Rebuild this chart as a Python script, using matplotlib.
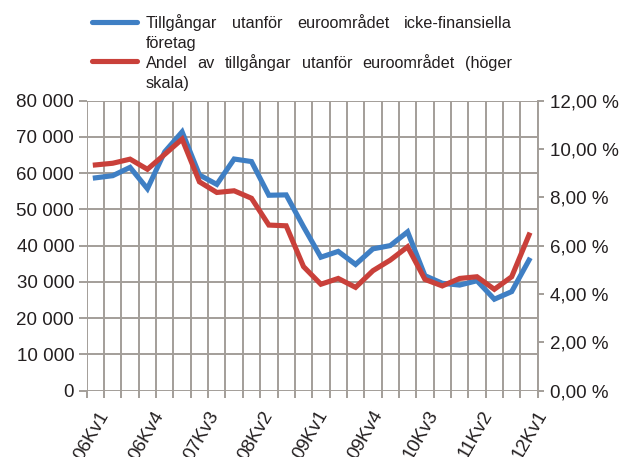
import matplotlib
matplotlib.use("Agg")
import matplotlib.pyplot as plt
import matplotlib.transforms as mtransforms
from matplotlib.lines import Line2D
from matplotlib.ticker import FuncFormatter, MultipleLocator
import numpy as np

plt.rcParams['font.family'] = ['Liberation Sans', 'DejaVu Sans']

# Data
# =====
quarters = ['05Kv4',
            '06Kv1', '06Kv2', '06Kv3', '06Kv4',
            '07Kv1', '07Kv2', '07Kv3', '07Kv4',
            '08Kv1', '08Kv2', '08Kv3', '08Kv4',
            '09Kv1', '09Kv2', '09Kv3', '09Kv4',
            '10Kv1', '10Kv2', '10Kv3', '10Kv4',
            '11Kv1', '11Kv2', '11Kv3', '11Kv4',
            '12Kv1']
shown_labels = ['06Kv1', '06Kv4', '07Kv3', '08Kv2', '09Kv1',
                '09Kv4', '10Kv3', '11Kv2', '12Kv1']

# Tillgångar utanför euroområdet, icke-finansiella företag (vänster skala)
assets = [58700, 59300, 61600, 55700, 65900, 71400, 59500, 56900, 63900, 63200,
          53900, 54000, 45200, 36800, 38400, 34800, 39100, 40000, 43800, 31700,
          29600, 29100, 30300, 25200, 27300, 36000]
# Andel av tillgångar utanför euroområdet, % (höger skala)
share = [9.34, 9.41, 9.58, 9.16, 9.78, 10.41, 8.64, 8.20, 8.27, 7.96,
         6.85, 6.82, 5.13, 4.40, 4.64, 4.27, 4.96, 5.40, 5.95, 4.60,
         4.33, 4.64, 4.71, 4.19, 4.71, 6.44]

legend_lines = [['Tillgångar', 'utanför', 'euroområdet', 'icke-finansiella'],
                ['företag'],
                ['Andel', 'av', 'tillgångar', 'utanför', 'euroområdet', '(höger'],
                ['skala)']]

BLUE = '#3f7fc4'
RED = '#c9403a'
GRID = '#a39e99'
TEXT = '#231f20'
FS = 13.5      # tick labels
FS_LEG = 11.7  # legend

W, H = 620, 457
fig = plt.figure(figsize=(W / 100, H / 100), dpi=100)
ax = fig.add_axes([86.7 / W, 1 - 390.5 / H, 451.0 / W, 289.8 / H])
ax2 = ax.twinx()

x = np.arange(len(quarters))
ax.plot(x, assets, color=BLUE, lw=3.7, solid_joinstyle='miter', zorder=3)
ax2.plot(x, share, color=RED, lw=3.7, solid_joinstyle='miter', zorder=3)

ax.set_xlim(-0.5, len(quarters) - 0.5)
ax.set_ylim(0, 80000)
ax2.set_ylim(0, 12)

# grid: category boundaries and value lines
ax.set_xticks(np.arange(-0.5, len(quarters), 1))
ax.set_xticklabels([])
ax.yaxis.set_major_locator(MultipleLocator(10000))
ax2.yaxis.set_major_locator(MultipleLocator(2))
ax.grid(True, color=GRID, lw=1.4)
ax.set_axisbelow(True)

ax.yaxis.set_major_formatter(FuncFormatter(lambda v, p: f"{int(v):,}".replace(',', ' ')))
ax2.yaxis.set_major_formatter(FuncFormatter(lambda v, p: f"{v:.2f} %".replace('.', ',')))

for a in (ax, ax2):
    for s in a.spines.values():
        s.set_visible(False)
ax.tick_params(axis='x', colors=GRID, width=1.4, length=5)
ax.tick_params(axis='y', colors=GRID, width=1.4, length=6, labelcolor=TEXT,
               labelsize=FS, pad=3)
ax2.tick_params(axis='y', colors=GRID, width=1.4, length=4.5, labelcolor=TEXT,
                labelsize=FS, pad=4)
ax2.spines['right'].set_visible(True)
ax2.spines['right'].set_color(GRID)
ax2.spines['right'].set_linewidth(1.4)

# rotated category labels (every third quarter)
trans = mtransforms.blended_transform_factory(ax.transData, ax.transAxes)
label_start, label_step = 0.55, 3.16
for k, lab in enumerate(shown_labels):
    ax.text(label_start + k * label_step, -0.075, lab, transform=trans,
            rotation=60, rotation_mode='anchor', ha='right', va='center',
            fontsize=FS, color=TEXT, clip_on=False)

# legend with justified text
fig.add_artist(Line2D([91.7 / W, 136.7 / W], [1 - 21.7 / H, 1 - 21.7 / H],
                      color=BLUE, lw=3.7, solid_capstyle='round'))
fig.add_artist(Line2D([91.7 / W, 136.7 / W], [1 - 60.7 / H, 1 - 60.7 / H],
                      color=RED, lw=3.7, solid_capstyle='round'))

renderer = fig.canvas.get_renderer()
x_left, x_right = 145.7, 511.7
baselines = [28.3, 47.7, 68.3, 88.3]
justify = [True, False, True, False]
for words, base, just in zip(legend_lines, baselines, justify):
    texts = [fig.text(0, 1 - base / H, w, fontsize=FS_LEG, color=TEXT,
                      va='baseline', ha='left') for w in words]
    widths = [t.get_window_extent(renderer).width for t in texts]
    if just and len(words) > 1:
        gap = (x_right - x_left - sum(widths)) / (len(words) - 1)
    else:
        gap = FS_LEG * 0.3
    pos = x_left
    for t, wdt in zip(texts, widths):
        t.set_x(pos / W)
        pos += wdt + gap

fig.savefig('out.png', dpi=100)
